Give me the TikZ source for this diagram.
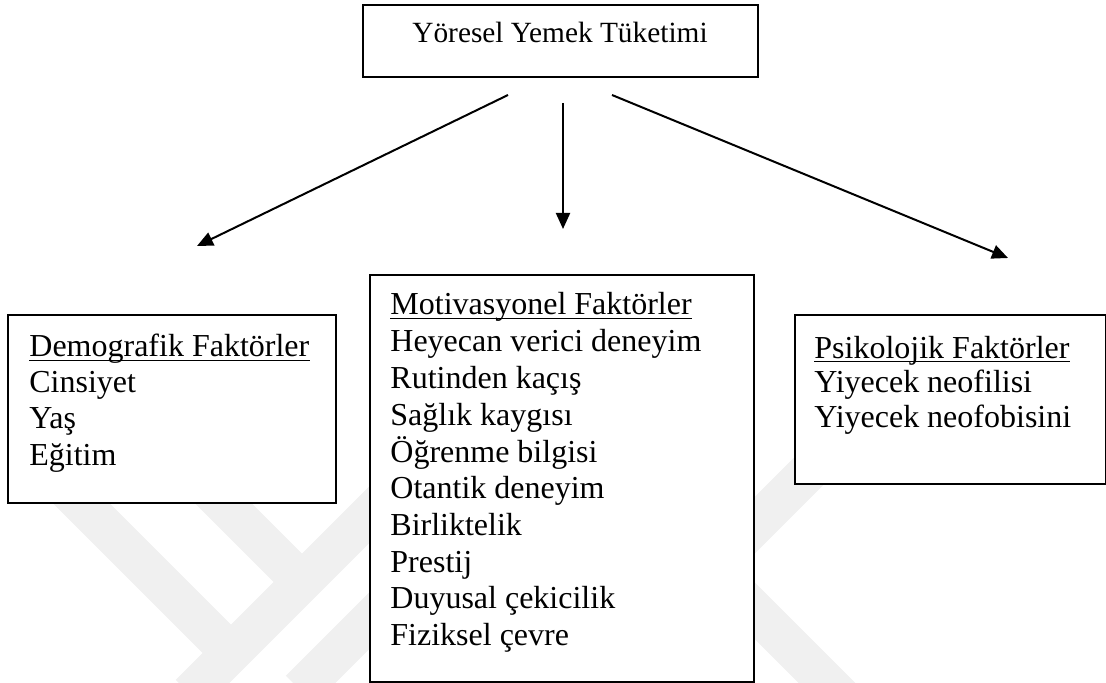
\documentclass[tikz,border=0pt]{standalone}
\usepackage{fontspec}
\setmainfont{Liberation Serif}
\usetikzlibrary{arrows.meta}
\begin{document}
\begin{tikzpicture}[x=0.5pt,y=-0.5pt,
  box/.style={draw=black, line width=1.1pt, fill=white, inner sep=0pt, anchor=north west},
  txt/.style={inner sep=0pt, anchor=base west, font=\fontsize{16pt}{18.3pt}\selectfont},
  headline/.style={line width=0.75pt},
  arr/.style={line width=1pt, -{Triangle[length=8pt,width=7pt]}},
  band/.style={line width=20pt, draw=black!6}]
\useasboundingbox (0,0) rectangle (1106,683);

% faint background emblem
\begin{scope}
  \clip (0,0) rectangle (1106,683);
  \draw[band] (50,472) -- (231,653);
  \draw[band] (200,480) -- (300,580);
  \draw[band] (420,464) -- (190,694);
  \draw[band] (440,550) -- (300,690);
  \draw[band] (840,440) -- (740,540);
  \draw[band] (730,586) -- (845,701);
\end{scope}

% top box
\node[box, minimum width=197.5pt, minimum height=36pt] (top) at (362,4) {};
\node[inner sep=0pt, anchor=base, font=\fontsize{14.67pt}{17pt}\selectfont] (toptxt) at (560,43) {Yöresel Yemek Tüketimi};

% demographic factors
\node[box, minimum width=164pt, minimum height=94pt] (demo) at (7,314) {};
\node[txt] (demohead) at (29,357) {Demografik Faktörler};
\draw[headline] ([yshift=-1.8pt]demohead.base west) -- ([yshift=-1.8pt]demohead.base east);
\node[txt, font=\fontsize{16pt}{18pt}\selectfont] (demolist) at (29,393) {\begin{tabular}[t]{@{}l@{}}Cinsiyet\\Yaş\\Eğitim\end{tabular}};

% motivational factors
\node[box, minimum width=192pt, minimum height=203.5pt] (moti) at (369,274) {};
\node[txt] (motihead) at (390,315) {Motivasyonel Faktörler};
\draw[headline] ([yshift=-1.8pt]motihead.base west) -- ([yshift=-1.8pt]motihead.base east);
\node[txt, font=\fontsize{16pt}{18.35pt}\selectfont] (motilist) at (390,351.7) {\begin{tabular}[t]{@{}l@{}}Heyecan verici deneyim\\Rutinden kaçış\\Sağlık kaygısı\\Öğrenme bilgisi\\Otantik deneyim\\Birliktelik\\Prestij\\Duyusal çekicilik\\Fiziksel çevre\end{tabular}};

% psychological factors
\node[box, minimum width=155.5pt, minimum height=84.5pt] (psy) at (794,314) {};
\node[txt] (psyhead) at (814,358) {Psikolojik Faktörler};
\draw[headline] ([yshift=-1.8pt]psyhead.base west) -- ([yshift=-1.8pt]psyhead.base east);
\node[txt, font=\fontsize{16pt}{17.5pt}\selectfont] (psylist) at (814,392.5) {\begin{tabular}[t]{@{}l@{}}Yiyecek neofilisi\\Yiyecek neofobisini\end{tabular}};

% connectors
\coordinate (lA) at (508,95);
\coordinate (lB) at (197,246);
\coordinate (mA) at (563,103);
\coordinate (mB) at (563,229);
\coordinate (rA) at (612,95);
\coordinate (rB) at (1008,258);
\draw[arr] (lA) -- (lB);
\draw[arr] (mA) -- (mB);
\draw[arr] (rA) -- (rB);
\end{tikzpicture}
\end{document}
